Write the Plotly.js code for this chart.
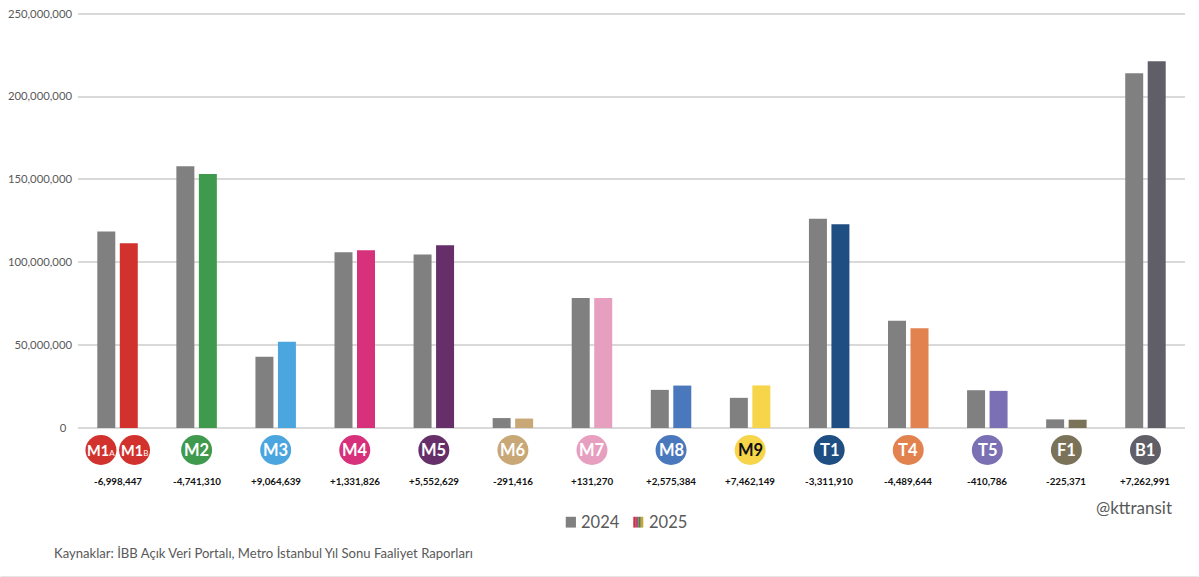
<!DOCTYPE html>
<html><head><meta charset="utf-8">
<script src="https://cdn.plot.ly/plotly-3.0.1.min.js"></script>
<style>html,body{margin:0;padding:0;background:#fff}#c{width:1199px;height:577px}</style>
</head><body><div id="c"></div>
<script>
const lines=['M1','M2','M3','M4','M5','M6','M7','M8','M9','T1','T4','T5','F1','B1'];
const v2024=[118500000,158000000,43000000,106000000,104700000,6000000,78400000,23000000,18200000,126200000,64700000,22800000,5200000,214000000];
const v2025=[111500000,153300000,52100000,107300000,110300000,5700000,78500000,25600000,25700000,122900000,60200000,22400000,5000000,221300000];
const colors2025=['#d1322d','#3f9a4e','#4ba6df','#d6317a','#662f69','#c9a877','#e79fc0','#4a78bd','#f6d54a','#1f4e82','#e2824f','#7b70b4','#7b7359','#605f68'];
const changes=['-6,998,447','-4,741,310','+9,064,639','+1,331,826','+5,552,629','-291,416','+131,270','+2,575,384','+7,462,149','-3,311,910','-4,489,644','-410,786','-225,371','+7,262,991'];
const badgeText=['','M2','M3','M4','M5','M6','M7','M8','M9','T1','T4','T5','F1','B1'];
const FONT='Lato, "Noto Sans", sans-serif';
const W=1199,H=577,L=77.5,R=1185.5,B=428;
const yMax=251000000;
const T=B-414*yMax/250000000;
const py=p=>1-(p-T)/(B-T);
const px=p=>(p-L)/(R-L);
const shapes=[],ann=[];
function badge(x,xs,c,text,col,suffix){
  shapes.push({type:'circle',xref:'x',yref:'paper',xsizemode:'pixel',ysizemode:'pixel',xanchor:x,yanchor:py(450),
    x0:xs-15.5,x1:xs+15.5,y0:-15,y1:15,fillcolor:c,line:{width:0},layer:'above'});
  ann.push({x:x,xref:'x',xshift:xs,y:py(450),yref:'paper',yanchor:'middle',xanchor:'center',showarrow:false,
    text:suffix?('<b>'+text+'</b><span style="font-size:8px">'+suffix+'</span>'):'<b>'+text+'</b>',
    font:{family:FONT,size:suffix?14.5:16.5,color:col}});
}
lines.forEach((l,i)=>{
  if(i===0){badge(l,-16.6,colors2025[0],'M1','#fff','A');badge(l,17,colors2025[0],'M1','#fff','B');}
  else badge(l,0,colors2025[i],badgeText[i],l==='M9'?'#111':'#fff');
  ann.push({x:l,xref:'x',y:py(481),yref:'paper',yanchor:'middle',xanchor:'center',showarrow:false,
    text:'<b>'+changes[i]+'</b>',font:{family:FONT,size:9.8,color:'#111'}});
});
// legend
const legendStripes=['#c8323f','#b9487a','#4f7f3e','#c9a23a'];
shapes.push({type:'rect',xref:'paper',yref:'paper',x0:px(565.7),x1:px(575.9),y0:py(527.5),y1:py(516.7),fillcolor:'#808080',line:{width:0}});
legendStripes.forEach((c,i)=>shapes.push({type:'rect',xref:'paper',yref:'paper',
  x0:px(633.3+i*2.5),x1:px(633.3+(i+1)*2.5),y0:py(527.5),y1:py(516.7),fillcolor:c,line:{width:0}}));
shapes.push({type:'line',xref:'paper',yref:'paper',x0:px(0),x1:px(W),y0:py(576.5),y1:py(576.5),line:{color:'#e2e2e2',width:1}});
[['2024',579],['2025',647]].forEach(([t,x])=>ann.push({x:px(x),xref:'paper',y:py(521.5),yref:'paper',xanchor:'left',yanchor:'middle',showarrow:false,
  text:t,font:{family:FONT,size:16.5,color:'#595959'}}));
ann.push({x:px(1174),xref:'paper',y:py(507),yref:'paper',xanchor:'right',yanchor:'middle',showarrow:false,
  text:'@kttransit',font:{family:FONT,size:17,color:'#595959'}});
ann.push({x:px(51),xref:'paper',y:py(553),yref:'paper',xanchor:'left',yanchor:'middle',showarrow:false,
  text:'Kaynaklar: İBB Açık Veri Portalı, Metro İstanbul Yıl Sonu Faaliyet Raporları',font:{family:FONT,size:13.1,color:'#595959'}});
Plotly.newPlot('c',[
  {type:'bar',name:'2024',x:lines,y:v2024,marker:{color:'#808080'},hoverinfo:'x+y'},
  {type:'bar',name:'2025',x:lines,y:v2025,marker:{color:colors2025},hoverinfo:'x+y'}
],{
  width:W,height:H,autosize:false,showlegend:false,
  margin:{l:L,r:W-R,t:T,b:H-B,pad:0},
  paper_bgcolor:'#fff',plot_bgcolor:'#fff',
  barmode:'group',bargap:0.431,bargroupgap:0.2,
  font:{family:FONT,color:'#595959',size:12},
  xaxis:{type:'category',showticklabels:false,ticks:'',showgrid:false,zeroline:false,showline:false,range:[-0.5,13.5]},
  yaxis:{range:[0,yMax],tickvals:[0,50000000,100000000,150000000,200000000,250000000],
    ticktext:['0\u00a0\u00a0','50,000,000','100,000,000','150,000,000','200,000,000','250,000,000'],
    ticks:'',gridcolor:'#d9d9d9',gridwidth:2,zeroline:true,zerolinecolor:'#d9d9d9',zerolinewidth:2,
    showline:false,tickfont:{family:FONT,size:11.3,color:'#595959'},ticklabelstandoff:5},
  shapes:shapes,annotations:ann
},{displayModeBar:false,staticPlot:true});
</script></body></html>
